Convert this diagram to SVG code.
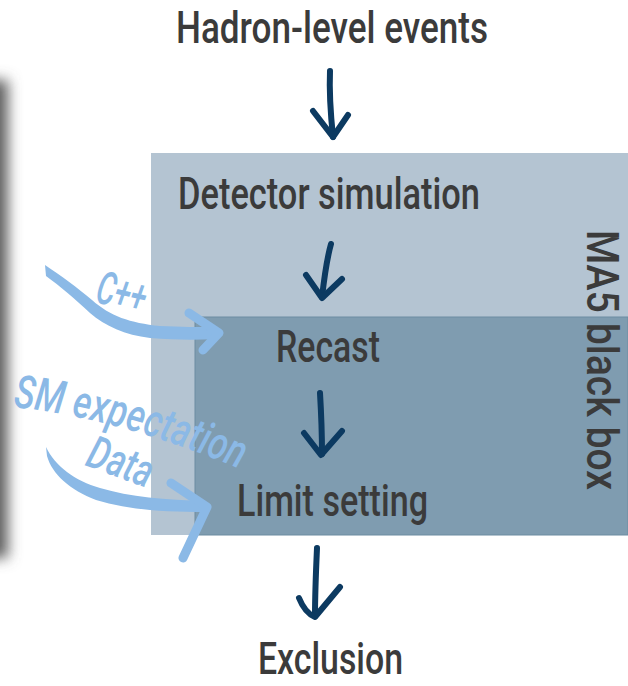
<svg xmlns="http://www.w3.org/2000/svg" width="628" height="686" viewBox="0 0 628 686">
  <style>
    .lbl { font-family: Roboto, "Liberation Sans", sans-serif; font-weight: 500; font-size: 44px; fill: #3b3b3b; }
    .note { font-family: Roboto, "Liberation Sans", sans-serif; font-style: italic; font-weight: 500; font-size: 46px; fill: #8bb9e6; }
    .flow { fill: none; stroke: #0c3a61; stroke-width: 6; stroke-linecap: round; stroke-linejoin: round; }
    .brush { fill: #8bb9e6; }
    .brushline { fill: none; stroke: #8bb9e6; stroke-width: 9; stroke-linecap: round; stroke-linejoin: round; }
  </style>
  <defs>
    <filter id="soft" x="-2" y="-0.2" width="5" height="1.4">
      <feGaussianBlur stdDeviation="7"/>
    </filter>
    <path id="smPath" d="M13,407 Q120,418 250,473"/>
  </defs>

  <rect width="628" height="686" fill="#ffffff"/>

  <!-- shadow of a panel at the left edge -->
  <rect x="-40" y="80" width="48" height="478" fill="#5e5e5e" filter="url(#soft)"/>

  <!-- black box container -->
  <g id="black-box">
    <rect x="151" y="153" width="477" height="382" fill="#b4c4d2"/>
  </g>

  <g id="recast-box">
    <rect x="195" y="317" width="433" height="218" fill="#7f9cb0" stroke="#6d8ca1" stroke-width="1"/>
  </g>

  <g id="black-box-label">
    <text class="lbl" font-size="46" transform="translate(587,230) rotate(90)" textLength="260" lengthAdjust="spacingAndGlyphs">MA5 black box</text>
  </g>

  <g id="hadron">
    <text class="lbl" font-size="42" x="176" y="43" textLength="312" lengthAdjust="spacingAndGlyphs">Hadron-level events</text>
  </g>
  <g id="detector">
    <text class="lbl" x="178" y="209" textLength="302" lengthAdjust="spacingAndGlyphs">Detector simulation</text>
  </g>
  <g id="recast">
    <text class="lbl" x="276" y="362" textLength="104" lengthAdjust="spacingAndGlyphs">Recast</text>
  </g>
  <g id="limit">
    <text class="lbl" x="237" y="516" textLength="191" lengthAdjust="spacingAndGlyphs">Limit setting</text>
  </g>
  <g id="exclusion">
    <text class="lbl" font-size="40" x="258" y="674" textLength="145" lengthAdjust="spacingAndGlyphs">Exclusion</text>
  </g>

  <!-- inputs -->
  <g id="cpp-input">
    <text class="note" font-size="50" transform="translate(94,302) rotate(13)" textLength="50" lengthAdjust="spacingAndGlyphs">C++</text>
  </g>
  <g id="sm-input">
    <text class="note"><textPath href="#smPath" textLength="236" lengthAdjust="spacingAndGlyphs">SM expectation</textPath></text>
  </g>
  <g id="data-input">
    <text class="note" font-size="42" transform="translate(84,465) rotate(20)" textLength="67" lengthAdjust="spacingAndGlyphs">Data</text>
  </g>

  <g id="connectors">
    <!-- main flow -->
    <path class="flow" d="M330,71 C329,95 331,118 333,137"/>
    <path class="flow" d="M313,111 L333,137 L348,115"/>
    <path class="flow" d="M331,244 C327,258 324,280 322,297"/>
    <path class="flow" d="M306,275 L322,298 L342,279"/>
    <path class="flow" d="M320,393 C321,410 322,435 322,454"/>
    <path class="flow" d="M304,433 L321,455 L342,431"/>
    <path class="flow" d="M317,548 C316,570 315,595 315,616"/>
    <path class="flow" d="M299,598 Q305,613 315,617 L340,587"/>

    <!-- C++ into Recast -->
    <path class="brush" d="M45,265 C60,275 78,288 92,300 C110,316 130,323 160,326 C180,327 200,327 216,327 L217,339 C195,340 175,340 150,338 C125,335 105,326 90,313 C75,299 60,286 46,276 Z"/>
    <path class="brushline" d="M189,313 L219,333 L203,350"/>

    <!-- SM expectation / Data into Limit setting -->
    <path class="brush" d="M46,447 C55,466 75,481 100,488 C130,497 165,500 206,501 L206,512 C165,512 128,510 96,500 C70,490 52,474 47,456 Z"/>
    <path class="brushline" d="M171,483 L207,507 L183,558"/>
  </g>
</svg>
